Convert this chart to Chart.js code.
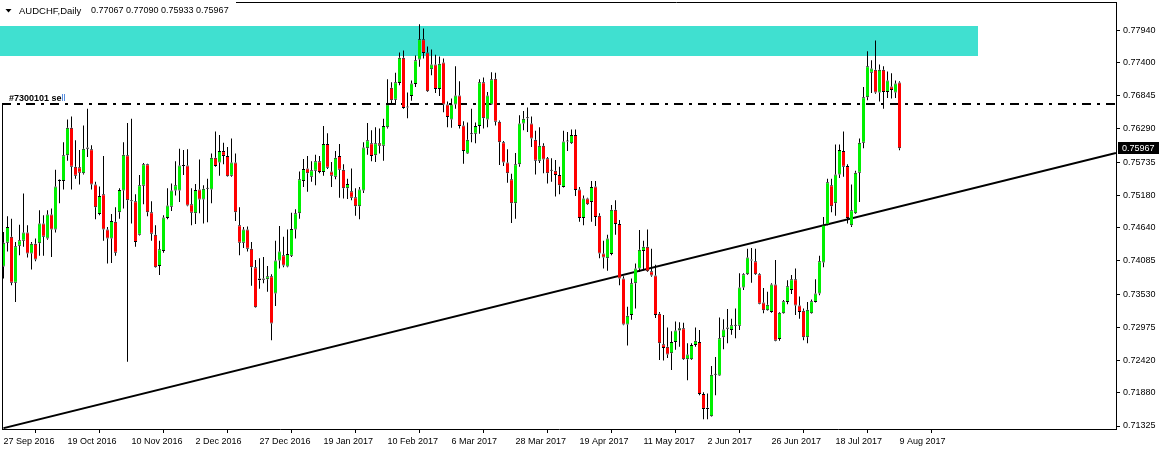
<!DOCTYPE html>
<html lang="en">
<head>
<meta charset="UTF-8">
<title>AUDCHF,Daily</title>
<script src="https://cdn.jsdelivr.net/npm/chart.js"></script>
<style>
  html, body { margin: 0; padding: 0; background: #fff; }
  canvas { display: block; }
</style>
</head>
<body>
<canvas id="grafico" width="1159" height="450"></canvas>
<script>
// daily candles, 27 Sep 2016 .. 9 Aug 2017
var opens = [
  0.7399,0.7439,0.7449,0.7372,0.7434,0.7442,0.7456,0.7421,0.7437,0.7438,
  0.7471,0.7446,0.7486,0.7461,0.7542,0.7542,0.7585,0.7631,0.7566,0.7565,
  0.7555,0.7596,0.7595,0.7536,0.7487,0.7520,0.7461,0.7446,0.7474,0.7490,
  0.7526,0.7585,0.7510,0.7508,0.7452,0.7534,0.7570,0.7490,0.7452,0.7400,
  0.7425,0.7480,0.7499,0.7526,0.7526,0.7567,0.7568,0.7503,0.7488,0.7528,
  0.7511,0.7529,0.7528,0.7581,0.7573,0.7592,0.7584,0.7551,0.7573,0.7468,
  0.7439,0.7461,0.7429,0.7398,0.7376,0.7377,0.7378,0.7383,0.7354,0.7409,
  0.7418,0.7399,0.7417,0.7461,0.7488,0.7542,0.7563,0.7549,0.7559,0.7575,
  0.7557,0.7604,0.7558,0.7549,0.7584,0.7561,0.7530,0.7525,0.7515,0.7500,
  0.7526,0.7597,0.7605,0.7585,0.7605,0.7601,0.7632,0.7698,0.7678,0.7706,
  0.7748,0.7666,0.7684,0.7704,0.7745,0.7779,0.7757,0.7729,0.7737,0.7696,
  0.7740,0.7670,0.7645,0.7670,0.7685,0.7635,0.7588,0.7620,0.7621,0.7634,
  0.7707,0.7645,0.7670,0.7713,0.7641,0.7607,0.7573,0.7545,0.7505,0.7570,
  0.7638,0.7647,0.7638,0.7611,0.7576,0.7601,0.7580,0.7560,0.7559,0.7552,
  0.7532,0.7608,0.7605,0.7619,0.7528,0.7480,0.7513,0.7507,0.7533,0.7484,
  0.7421,0.7413,0.7420,0.7494,0.7470,0.7379,0.7302,0.7318,0.7371,0.7396,
  0.7425,0.7432,0.7391,0.7384,0.7320,0.7269,0.7265,0.7254,0.7273,0.7292,
  0.7296,0.7244,0.7244,0.7268,0.7273,0.7186,0.7163,0.7149,0.7218,0.7217,
  0.7281,0.7295,0.7293,0.7300,0.7300,0.7364,0.7386,0.7409,0.7408,0.7386,
  0.7339,0.7326,0.7323,0.7369,0.7278,0.7321,0.7340,0.7360,0.7378,0.7334,
  0.7325,0.7281,0.7321,0.7340,0.7354,0.7406,0.7469,0.7535,0.7505,0.7553,
  0.7592,0.7567,0.7468,0.7488,0.7556,0.7606,0.7682,0.7723,0.7728,0.7690,
  0.7728,0.7691,0.7700,0.7690,0.77067
];
var highs = [
  0.7457,0.7483,0.7479,0.7440,0.7469,0.7521,0.7468,0.7440,0.7446,0.7493,
  0.7485,0.7493,0.7496,0.7561,0.7545,0.7607,0.7645,0.7650,0.7610,0.7594,
  0.7635,0.7663,0.7602,0.7541,0.7533,0.7584,0.7465,0.7487,0.7498,0.7530,
  0.7607,0.7639,0.7646,0.7520,0.7552,0.7572,0.7571,0.7508,0.7468,0.7442,
  0.7485,0.7530,0.7538,0.7575,0.7596,0.7594,0.7595,0.7530,0.7537,0.7578,
  0.7535,0.7546,0.7588,0.7625,0.7619,0.7606,0.7599,0.7613,0.7588,0.7498,
  0.7465,0.7466,0.7440,0.7410,0.7413,0.7415,0.7400,0.7386,0.7442,0.7467,
  0.7449,0.7461,0.7489,0.7495,0.7558,0.7579,0.7584,0.7575,0.7586,0.7584,
  0.7634,0.7622,0.7574,0.7592,0.7604,0.7570,0.7546,0.7563,0.7530,0.7532,
  0.7607,0.7639,0.7627,0.7632,0.7630,0.7646,0.7712,0.7707,0.7723,0.7757,
  0.7760,0.7690,0.7710,0.7752,0.7804,0.7797,0.7767,0.7762,0.7753,0.7750,
  0.7747,0.7675,0.7680,0.7734,0.7709,0.7642,0.7640,0.7663,0.7640,0.7712,
  0.7715,0.7691,0.7724,0.7723,0.7643,0.7609,0.7595,0.7554,0.7589,0.7652,
  0.7659,0.7665,0.7650,0.7626,0.7632,0.7605,0.7582,0.7580,0.7577,0.7566,
  0.7626,0.7624,0.7628,0.7628,0.7532,0.7518,0.7514,0.7542,0.7542,0.7488,
  0.7442,0.7452,0.7502,0.7510,0.7477,0.7383,0.7332,0.7379,0.7404,0.7460,
  0.7442,0.7461,0.7429,0.7402,0.7323,0.7318,0.7297,0.7291,0.7307,0.7306,
  0.7305,0.7271,0.7271,0.7297,0.7293,0.7189,0.7187,0.7233,0.7248,0.7314,
  0.7311,0.7328,0.7312,0.7329,0.7388,0.7388,0.7429,0.7430,0.7429,0.7388,
  0.7363,0.7357,0.7371,0.7410,0.7323,0.7343,0.7376,0.7385,0.7396,0.7349,
  0.7329,0.7340,0.7344,0.7378,0.7417,0.7482,0.7546,0.7546,0.7603,0.7603,
  0.7625,0.7570,0.7536,0.7559,0.7613,0.7699,0.7759,0.7744,0.7777,0.7737,
  0.7734,0.7725,0.7722,0.7710,0.77090
];
var lows = [
  0.7379,0.7424,0.7368,0.7340,0.7418,0.7432,0.7414,0.7394,0.7408,0.7417,
  0.7417,0.7444,0.7415,0.7456,0.7505,0.7528,0.7576,0.7528,0.7546,0.7536,
  0.7553,0.7582,0.7528,0.7478,0.7485,0.7442,0.7404,0.7405,0.7417,0.7479,
  0.7496,0.7240,0.7471,0.7432,0.7451,0.7503,0.7483,0.7442,0.7397,0.7385,
  0.7422,0.7478,0.7492,0.7518,0.7507,0.7552,0.7500,0.7468,0.7470,0.7488,
  0.7471,0.7473,0.7505,0.7566,0.7551,0.7570,0.7549,0.7549,0.7475,0.7418,
  0.7430,0.7424,0.7367,0.7330,0.7362,0.7371,0.7357,0.7276,0.7333,0.7396,
  0.7398,0.7398,0.7415,0.7446,0.7479,0.7532,0.7524,0.7541,0.7535,0.7555,
  0.7551,0.7562,0.7532,0.7545,0.7514,0.7513,0.7512,0.7510,0.7484,0.7478,
  0.7522,0.7586,0.7575,0.7574,0.7588,0.7576,0.7630,0.7669,0.7669,0.7702,
  0.7663,0.7647,0.7676,0.7699,0.7733,0.7747,0.7691,0.7719,0.7689,0.7684,
  0.7657,0.7632,0.7631,0.7663,0.7630,0.7571,0.7587,0.7607,0.7605,0.7621,
  0.7630,0.7632,0.7669,0.7635,0.7569,0.7567,0.7539,0.7472,0.7479,0.7566,
  0.7627,0.7624,0.7599,0.7553,0.7572,0.7555,0.7538,0.7541,0.7516,0.7520,
  0.7531,0.7592,0.7604,0.7517,0.7474,0.7468,0.7502,0.7474,0.7467,0.7413,
  0.7396,0.7392,0.7418,0.7452,0.7368,0.7301,0.7267,0.7310,0.7329,0.7390,
  0.7393,0.7390,0.7382,0.7313,0.7243,0.7242,0.7246,0.7226,0.7260,0.7265,
  0.7243,0.7209,0.7243,0.7265,0.7184,0.7144,0.7144,0.7148,0.7184,0.7216,
  0.7261,0.7271,0.7285,0.7279,0.7293,0.7360,0.7385,0.7372,0.7385,0.7336,
  0.7321,0.7325,0.7322,0.7274,0.7275,0.7320,0.7336,0.7353,0.7318,0.7312,
  0.7276,0.7271,0.7320,0.7339,0.7351,0.7398,0.7468,0.7490,0.7484,0.7547,
  0.7549,0.7471,0.7465,0.7487,0.7507,0.7597,0.7677,0.7689,0.7688,0.7675,
  0.7663,0.7681,0.7680,0.7681,0.75933
];
var closes = [
  0.7439,0.7465,0.7372,0.7433,0.7443,0.7456,0.7421,0.7437,0.7411,0.7471,
  0.7449,0.7486,0.7461,0.7533,0.7544,0.7585,0.7631,0.7566,0.7551,0.7556,
  0.7596,0.7598,0.7536,0.7498,0.7517,0.7461,0.7446,0.7475,0.7422,0.7527,
  0.7586,0.7510,0.7508,0.7440,0.7535,0.7570,0.7490,0.7454,0.7398,0.7428,
  0.7481,0.7501,0.7526,0.7535,0.7568,0.7568,0.7501,0.7489,0.7527,0.7511,
  0.7529,0.7530,0.7581,0.7567,0.7592,0.7584,0.7550,0.7573,0.7490,0.7439,
  0.7461,0.7429,0.7398,0.7331,0.7379,0.7379,0.7383,0.7304,0.7409,0.7424,
  0.7401,0.7420,0.7462,0.7488,0.7545,0.7562,0.7555,0.7560,0.7575,0.7557,
  0.7604,0.7564,0.7551,0.7581,0.7561,0.7530,0.7537,0.7514,0.7500,0.7528,
  0.7598,0.7610,0.7584,0.7605,0.7601,0.7634,0.7670,0.7677,0.7707,0.7748,
  0.7664,0.7665,0.7705,0.7744,0.7779,0.7756,0.7692,0.7737,0.7696,0.7738,
  0.7670,0.7649,0.7670,0.7685,0.7634,0.7592,0.7611,0.7621,0.7634,0.7707,
  0.7647,0.7685,0.7712,0.7641,0.7607,0.7573,0.7555,0.7505,0.7570,0.7638,
  0.7646,0.7648,0.7613,0.7576,0.7601,0.7578,0.7555,0.7559,0.7552,0.7535,
  0.7608,0.7609,0.7619,0.7527,0.7480,0.7513,0.7503,0.7532,0.7482,0.7421,
  0.7414,0.7446,0.7494,0.7470,0.7379,0.7302,0.7317,0.7371,0.7396,0.7427,
  0.7432,0.7391,0.7384,0.7318,0.7271,0.7263,0.7252,0.7273,0.7292,0.7296,
  0.7244,0.7252,0.7268,0.7275,0.7186,0.7161,0.7161,0.7218,0.7219,0.7279,
  0.7294,0.7297,0.7301,0.7301,0.7364,0.7386,0.7414,0.7411,0.7386,0.7337,
  0.7326,0.7335,0.7369,0.7275,0.7322,0.7341,0.7366,0.7378,0.7334,0.7323,
  0.7281,0.7327,0.7341,0.7354,0.7408,0.7469,0.7540,0.7500,0.7553,0.7594,
  0.7566,0.7480,0.7493,0.7556,0.7606,0.7682,0.7734,0.7730,0.7690,0.7728,
  0.7691,0.7710,0.7694,0.7705,0.75967
];

// one date label every 16 bars
var dateLabels = ['27 Sep 2016', '19 Oct 2016', '10 Nov 2016', '2 Dec 2016', '27 Dec 2016',
  '19 Jan 2017', '10 Feb 2017', '6 Mar 2017', '28 Mar 2017', '19 Apr 2017',
  '11 May 2017', '2 Jun 2017', '26 Jun 2017', '18 Jul 2017', '9 Aug 2017'];
var priceTicks = [0.77940, 0.77400, 0.76845, 0.76290, 0.75735, 0.75180, 0.74640,
  0.74085, 0.73530, 0.72975, 0.72420, 0.71880, 0.71325];

// drawn objects
var zoneTop = 0.78012, zoneBottom = 0.77515, zoneEndBar = 243.6;
var sellLevel = 0.76708;
var trendStart = { bar: 0, price: 0.7129 };
var trendEnd = { bar: 278.1, price: 0.7589 };

var FONT = "'Liberation Sans', Arial, sans-serif";
var UP = '#00f000', DOWN = '#ff0000';

// coloured bodies, upper / lower shadows
var upBodies = [], downBodies = [], upperWicks = [], lowerWicks = [];
opens.forEach(function (o, i) {
  var c = closes[i];
  var hiBody = Math.max(o, c), loBody = Math.min(o, c);
  if (c >= o) upBodies.push({ x: i, y: [o, c] });
  else downBodies.push({ x: i, y: [o, c] });
  upperWicks.push({ x: i, y: [hiBody, highs[i]] });
  lowerWicks.push({ x: i, y: [lows[i], loBody] });
});

var desenhos = {
  id: 'desenhos',
  beforeDatasetsDraw: function (chart) {
    var ctx = chart.ctx, x = chart.scales.x, y = chart.scales.y;
    var t = y.getPixelForValue(zoneTop), b = y.getPixelForValue(zoneBottom);
    ctx.save();
    ctx.fillStyle = '#40e0d0';
    ctx.fillRect(0, Math.round(t), Math.round(x.getPixelForValue(zoneEndBar)), Math.round(b - t));
    ctx.restore();
  },
  afterDraw: function (chart) {
    var ctx = chart.ctx, area = chart.chartArea, y = chart.scales.y;
    ctx.save();
    ctx.strokeStyle = '#000';
    ctx.lineWidth = 1;
    ctx.beginPath();
    ctx.moveTo(236, area.top - 0.5);
    ctx.lineTo(area.right + 1, area.top - 0.5);
    ctx.moveTo(area.left + 0.5, y.getPixelForValue(sellLevel));
    ctx.lineTo(area.left + 0.5, area.bottom);
    ctx.stroke();

    // header
    ctx.fillStyle = '#000';
    ctx.beginPath();
    ctx.moveTo(5.5, 9); ctx.lineTo(11.5, 9); ctx.lineTo(8.5, 12.5); ctx.closePath();
    ctx.fill();
    ctx.textBaseline = 'middle';
    ctx.textAlign = 'left';
    ctx.font = '9.5px ' + FONT;
    ctx.fillText('AUDCHF,Daily', 19, 11);
    ctx.font = '9px ' + FONT;
    var last = closes.length - 1;
    ctx.fillText([opens[last], highs[last], lows[last], closes[last]].map(function (v) { return v.toFixed(5); }).join(' '), 91, 11);

    // order label
    ctx.font = 'bold 9px ' + FONT;
    ctx.fillText('#7300101 se', 9, 98.5);
    var w = ctx.measureText('#7300101 se').width;
    ctx.fillStyle = '#2a6fd6';
    ctx.font = '9px ' + FONT;
    ctx.fillText('ll', 9 + w, 98.5);

    // current price box
    var yp = Math.round(y.getPixelForValue(closes[last]));
    ctx.fillStyle = '#000';
    ctx.fillRect(area.right + 2, yp - 6, 41, 12);
    ctx.fillStyle = '#fff';
    ctx.fillText(closes[last].toFixed(5), area.right + 6, yp + 0.5);
    ctx.restore();
  }
};

function barSet(data, color, width, extra) {
  return Object.assign({
    data: data, backgroundColor: color, borderWidth: 0,
    barThickness: width, maxBarThickness: width, inflateAmount: 0, grouped: false
  }, extra || {});
}

// bodies get a thin black cap at open / close, like the terminal draws them
var bodyEdge = {
  minBarLength: 1, borderColor: '#000', borderSkipped: false,
  borderWidth: { top: 1, bottom: 1, left: 0, right: 0 }
};

new Chart(document.getElementById('grafico'), {
  type: 'bar',
  data: {
    datasets: [
      barSet(upperWicks, '#000', 1),
      barSet(lowerWicks, '#000', 1),
      barSet(upBodies, UP, 3, bodyEdge),
      barSet(downBodies, DOWN, 3, bodyEdge),
      {
        type: 'line', data: [{ x: -0.375, y: sellLevel }, { x: 278.125, y: sellLevel }],
        borderColor: '#000', borderWidth: 2, borderDash: [9, 6, 3, 6], pointRadius: 0
      },
      {
        type: 'line', data: [{ x: trendStart.bar, y: trendStart.price }, { x: trendEnd.bar, y: trendEnd.price }],
        borderColor: '#000', borderWidth: 2, pointRadius: 0
      }
    ]
  },
  options: {
    responsive: false,
    devicePixelRatio: 1,
    animation: false,
    events: [],
    layout: { padding: { left: 2, top: 3, right: 0, bottom: 0 } },
    plugins: { legend: { display: false }, tooltip: { enabled: false } },
    scales: {
      x: {
        type: 'linear', min: -0.375, max: 278.125, offset: false,
        afterBuildTicks: function (s) {
          s.ticks = dateLabels.map(function (d, k) { return { value: k * 16 }; });
        },
        afterFit: function (s) { s.height = 21; s.paddingLeft = 0; s.paddingRight = 0; },
        ticks: {
          callback: function (v, idx) { return dateLabels[idx]; },
          align: 'start', maxRotation: 0, minRotation: 0, autoSkip: false, padding: 3,
          color: '#000', font: { family: FONT, size: 9 }
        },
        grid: { drawOnChartArea: false, drawTicks: true, tickLength: 4, color: '#000' },
        border: { color: '#000', width: 1 }
      },
      y: {
        position: 'right', min: 0.71275, max: 0.78396,
        afterBuildTicks: function (s) {
          s.ticks = priceTicks.map(function (v) { return { value: v }; });
        },
        afterFit: function (s) { s.width = 43; s.paddingTop = 0; s.paddingBottom = 0; },
        ticks: {
          callback: function (v) { return v.toFixed(5); },
          autoSkip: false, padding: 3, color: '#000', font: { family: FONT, size: 9 }
        },
        grid: { drawOnChartArea: false, drawTicks: true, tickLength: 4, color: '#000' },
        border: { color: '#000', width: 1 }
      }
    }
  },
  plugins: [desenhos]
});
</script>
</body>
</html>
